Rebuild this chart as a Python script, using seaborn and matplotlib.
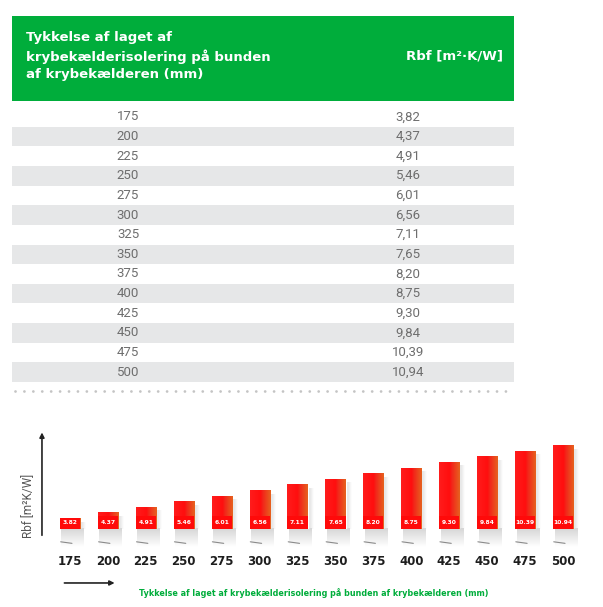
import matplotlib
matplotlib.use("Agg")
import matplotlib.pyplot as plt
from matplotlib.patches import Rectangle
from matplotlib.colors import LinearSegmentedColormap
import seaborn as sns
import numpy as np
import pandas as pd

# data
thickness = [175, 200, 225, 250, 275, 300, 325, 350, 375, 400, 425, 450, 475, 500]
rbf = [3.82, 4.37, 4.91, 5.46, 6.01, 6.56, 7.11, 7.65, 8.20, 8.75, 9.30, 9.84, 10.39, 10.94]
header_left = "Tykkelse af laget af\nkrybekælderisolering på bunden\naf krybekælderen (mm)"
header_right = "Rbf [m²·K/W]"
x_title = "Tykkelse af laget af krybekælderisolering på bunden af krybekælderen (mm)"
y_title = "Rbf [m²K/W]"

W, H = 603, 607
GREEN = "#00ad3b"
GREY_ROW = "#e6e7e8"
TXT = "#6e6e6e"


def box(x0, y0, x1, y1):
    # pixel box (from top left) -> figure fraction
    return [x0 / W, 1 - y1 / H, (x1 - x0) / W, (y1 - y0) / H]


def fade(direction, n=32, grey=0.8):
    # rgba strip of grey fading out to transparent
    a = np.linspace(0.9, 0.0, n)
    rgba = np.zeros((n, 1, 4)) if direction == "v" else np.zeros((1, n, 4))
    rgba[..., :3] = grey
    rgba[..., 3] = a.reshape(rgba.shape[:2])
    return rgba


sns.set_theme(style="white")
plt.rcParams['font.family'] = ['DejaVu Sans']
fig = plt.figure(figsize=(W / 100, H / 100), dpi=100)

# ---- green table header
hax = fig.add_axes(box(12, 16, 514, 101))
hax.set_facecolor(GREEN)
hax.set_xticks([])
hax.set_yticks([])
for s in hax.spines.values():
    s.set_visible(False)
hax.text(14 / 502, 0.53, header_left, transform=hax.transAxes, ha="left", va="center",
         color="white", fontsize=9.5, fontweight="bold", linespacing=1.45)
hax.text(491 / 502, 0.53, header_right, transform=hax.transAxes, ha="right", va="center",
         color="white", fontsize=9.5, fontweight="bold")

# ---- table body
tab = pd.DataFrame({"thickness": thickness, "rbf": rbf})
tax = fig.add_axes(box(12, 107, 514, 382))
tax.set_xlim(0, 1)
tax.set_ylim(len(tab), 0)
tax.axis("off")
for i, row in tab.iterrows():
    if i % 2 == 1:
        tax.axhspan(i, i + 1, color=GREY_ROW, lw=0)
    tax.text(116 / 502, i + 0.5, f"{int(row.thickness)}", ha="center", va="center",
             color=TXT, fontsize=9.5, family="Roboto")
    tax.text(396 / 502, i + 0.5, f"{row.rbf:.2f}".replace(".", ","), ha="center", va="center",
             color=TXT, fontsize=9.5, family="Roboto")
tax.plot([0.005, 1], [len(tab) + 0.45] * 2, ls=(0, (0.01, 3.2)), lw=2, color="#c4c4c4",
         dash_capstyle="round", clip_on=False)

# ---- bar chart
base = 2.75
bax = fig.add_axes(box(51, 425, 582, 529))
sns.barplot(x=[str(t) for t in thickness], y=rbf, ax=bax, color="#ff1212",
            saturation=1, width=0.53, zorder=3)
cmap = LinearSegmentedColormap.from_list(
    "bar", [(0, "#ff1c1c"), (0.5, "#ff0e0e"), (0.62, "#f2261a"), (1, "#e6621f")])
grad = np.linspace(0, 1, 64).reshape(1, -1)
for i, p in enumerate(bax.patches):
    x0, w, top = p.get_x(), p.get_width(), p.get_height()
    im = bax.imshow(grad, extent=[x0, x0 + w, base, top], aspect="auto", cmap=cmap,
                    zorder=4, origin="lower")
    im.set_clip_path(p)
    # shadow under and right of bar
    sh = bax.imshow(fade("v", grey=0.82), extent=[x0 + 0.04, x0 + w + 0.1, base - 1.8, base],
                    aspect="auto", zorder=1, origin="upper")
    sh.set_clip_on(False)
    sr = bax.imshow(fade("h", grey=0.84), extent=[x0 + w, x0 + w + 0.14, base, top - 0.4],
                    aspect="auto", zorder=1, origin="upper")
    sr.set_clip_on(False)
    bax.plot([x0 + 0.02, x0 + w * 0.6], [base - 1.25, base - 1.4], color="#8a8a8a",
             lw=0.8, zorder=2, clip_on=False)
    # value tag at bottom of bar
    tag_top = min(top, base + 1.27)
    bax.add_patch(Rectangle((x0, base), w, tag_top - base, fc="#ff0a0a", ec="none", zorder=5))
    bax.text(x0 + w / 2, base + 0.62, f"{rbf[i]:.2f}", ha="center", va="center",
             color="white", fontsize=4.3, fontweight="bold", zorder=6)

bax.set_xlim(-0.5, len(thickness) - 0.5)
bax.set_ylim(base, 12.9)
bax.set_yticks([])
bax.set_xlabel("")
bax.set_ylabel("")
sns.despine(ax=bax, left=True, bottom=True)
bax.tick_params(axis="x", length=0, pad=19, labelsize=8.5, labelcolor="#1e1e1e")
for lbl in bax.get_xticklabels():
    lbl.set_fontweight("bold")

# axis arrows and titles
bax.annotate("", xy=(-0.017, 0.955), xytext=(-0.017, -0.087), xycoords="axes fraction",
             arrowprops=dict(arrowstyle="-|>", color="#222222", lw=1.2, mutation_scale=7))
bax.text(-0.043, 0.22, y_title, transform=bax.transAxes, rotation=90, ha="center", va="center",
         fontsize=8.5, color="#555555", family="Roboto")
bax.annotate("", xy=(0.125, -0.519), xytext=(0.02, -0.519), xycoords="axes fraction",
             arrowprops=dict(arrowstyle="-|>", color="#222222", lw=1.2, mutation_scale=7))
bax.text(0.166, -0.615, x_title, transform=bax.transAxes, ha="left", va="center",
         fontsize=5.8, color=GREEN, fontweight="bold")

fig.savefig("out.png", dpi=100)
